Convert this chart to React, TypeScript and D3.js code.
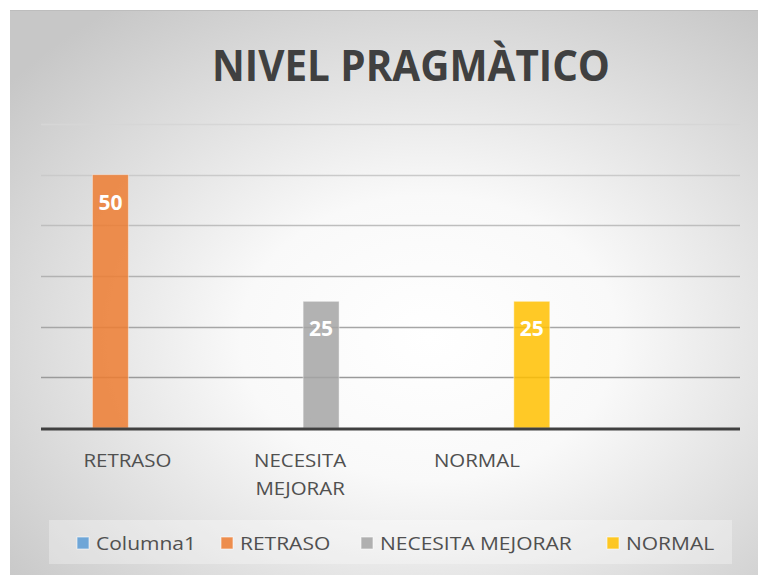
import React from "react";
import * as d3 from "d3";

const title = "NIVEL PRAGMÀTICO";
const categories = ["RETRASO", "NECESITA MEJORAR", "NORMAL", ""];
const seriesNames = ["Columna1", "RETRASO", "NECESITA MEJORAR", "NORMAL"];
const seriesColors = ["#5B9BD5", "#ED7D31", "#A5A5A5", "#FFC000"];
const seriesValues: (number | null)[][] = [
  [null, null, null, null],
  [50, null, null, null],
  [null, 25, null, null],
  [null, null, 25, null],
];
const yTicks = [0, 10, 20, 30, 40, 50, 60];
const legendX = [77, 221, 361, 607];

const W = 758;
const H = 575;
const SX = 1.17;
const SXL = 1.2;

export default function App() {
  const x0 = d3
    .scaleBand<string>()
    .domain(categories.map((c, i) => String(i)))
    .range([41, 740])
    .paddingInner(31 / 175)
    .paddingOuter(31 / 350);
  const x1 = d3
    .scaleBand<string>()
    .domain(seriesNames)
    .range([0, x0.bandwidth()]);
  const y = d3.scaleLinear().domain([0, 60]).range([428, 124]);
  const font = "'Open Sans', 'DejaVu Sans', sans-serif";
  const gridColor = d3
    .scaleLinear<string>()
    .domain([10, 60])
    .range(["#9a9a9a", "#d6d6d6"]);

  return (
    <svg
      width={W}
      height={H}
      style={{ position: "absolute", left: 0, top: 0 }}
      fontFamily={font}
    >
      <defs>
        <radialGradient id="bg" cx="0.56" cy="0.58" r="0.72">
          <stop offset="0" stopColor="#ffffff" />
          <stop offset="0.35" stopColor="#f9f9f9" />
          <stop offset="1" stopColor="#c7c7c7" />
        </radialGradient>
      </defs>
      <rect x={0} y={0} width={W} height={H} fill="#ffffff" />
      <rect x={10} y={10} width={W - 10} height={H - 10} fill="url(#bg)" />
      <line x1={10} x2={W} y1={10.5} y2={10.5} stroke="#bdbdbd" strokeWidth={1} />
      <text
        x={411}
        y={81}
        textAnchor="middle"
        fontSize={43}
        fontWeight="bold"
        fill="#404040"
        textLength={398}
        lengthAdjust="spacingAndGlyphs"
      >
        {title}
      </text>
      {yTicks
        .filter((t) => t > 0)
        .map((t) => (
          <line
            key={t}
            x1={41}
            x2={740}
            y1={Math.round(y(t)) + 0.5}
            y2={Math.round(y(t)) + 0.5}
            stroke={gridColor(t)}
            strokeWidth={1.5}
          />
        ))}
      {seriesNames.map((s, si) =>
        categories.map((c, ci) => {
          const v = seriesValues[si][ci];
          if (v == null) return null;
          const bx = (x0(String(ci)) ?? 0) + (x1(s) ?? 0);
          const bw = x1.bandwidth();
          return (
            <g key={s + ci}>
              <rect
                x={bx}
                y={y(v)}
                width={bw}
                height={y(0) - y(v)}
                fill={seriesColors[si]}
                fillOpacity={0.85}
                stroke="#ffffff"
                strokeOpacity={0.4}
                strokeWidth={1}
              />
              <text
                x={bx + bw / 2}
                y={y(v) + 35}
                textAnchor="middle"
                fontSize={21}
                fontWeight="bold"
                fill="#ffffff"
              >
                {v}
              </text>
            </g>
          );
        })
      )}
      <line x1={41} x2={740} y1={429} y2={429} stroke="#404040" strokeWidth={3} />
      {categories.map((c, ci) => {
        const cx = (x0(String(ci)) ?? 0) + x0.bandwidth() / 2;
        const words = c === "NECESITA MEJORAR" ? ["NECESITA", "MEJORAR"] : [c];
        const ox = words.length > 1 ? -3 : -1;
        return (
          <g key={ci}>
            {words.map((w, wi) => (
              <g key={wi} transform={`translate(${cx + ox},${467 + wi * 28}) scale(${SX},1)`}>
                <text x={0} y={0} textAnchor="middle" fontSize={17.5} fill="#505050">
                  {w}
                </text>
              </g>
            ))}
          </g>
        );
      })}
      <rect x={49} y={520} width={683} height={44} fill="#ffffff" fillOpacity={0.3} />
      {seriesNames.map((s, si) => (
        <g key={s}>
          <rect
            x={legendX[si]}
            y={537}
            width={12}
            height={12}
            fill={seriesColors[si]}
            fillOpacity={0.85}
            stroke="#ffffff"
            strokeOpacity={0.6}
          />
          <g transform={`translate(${legendX[si] + 19},550) scale(${SXL},1)`}>
            <text x={0} y={0} fontSize={17.5} fill="#505050">
              {s}
            </text>
          </g>
        </g>
      ))}
    </svg>
  );
}
